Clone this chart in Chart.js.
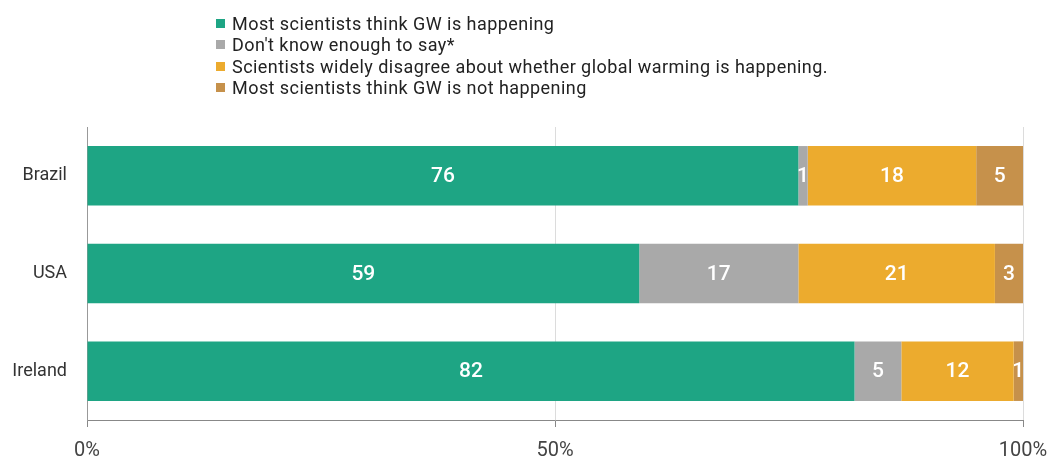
<!DOCTYPE html>
<html>
<head>
<meta charset="utf-8">
<script src="https://cdn.jsdelivr.net/npm/chart.js@4"></script>
<style>
  body { margin: 0; background: #fff; font-family: Roboto, "Noto Sans", sans-serif; }
  #wrap { position: relative; width: 1052px; height: 457px; }
  #legend { position: absolute; left: 216px; top: 13px; font-size: 18px; letter-spacing: 0.45px; line-height: 21.3px; color: #222; }
  #legend .item { display: flex; align-items: center; white-space: nowrap; }
  #legend .box { width: 9px; height: 9px; margin-right: 7px; flex: none; }
</style>
</head>
<body>
<div id="wrap">
  <canvas id="chartGW"></canvas>
  <div id="legend"></div>
</div>
<script>
// survey answers, percent of respondents
var countries = ['Brazil', 'USA', 'Ireland'];
var happening = [76, 59, 82];
var dontKnow = [1, 17, 5];
var disagree = [18, 21, 12];
var notHappening = [5, 3, 1];

var seriesNames = [
    'Most scientists think GW is happening',
    "Don't know enough to say*",
    'Scientists widely disagree about whether global warming is happening.',
    'Most scientists think GW is not happening'
];
var seriesColors = ['#1ea584', '#a9a9a9', '#ecab2e', '#c6914b'];
var xTicks = [0, 50, 100];

// writes each segment's value in the middle of the bar
var valueLabels = {
    id: 'valueLabels',
    afterDatasetsDraw: function(chart) {
        var ctx = chart.ctx;
        ctx.save();
        ctx.fillStyle = '#fff';
        ctx.font = '500 21px Roboto';
        ctx.textAlign = 'center';
        ctx.textBaseline = 'middle';
        chart.data.datasets.forEach(function(ds, i) {
            chart.getDatasetMeta(i).data.forEach(function(bar, j) {
                var p = bar.getProps(['x', 'y', 'base'], true);
                ctx.fillText(String(ds.data[j]), (p.x + p.base) / 2, p.y + 1);
            });
        });
        ctx.restore();
    }
};

var seriesData = [happening, dontKnow, disagree, notHappening];
var datasets = seriesData.map(function(values, i) {
    return {
        label: seriesNames[i],
        data: values,
        backgroundColor: seriesColors[i],
        borderWidth: 0,
        barPercentage: 0.61,
        categoryPercentage: 1
    };
});

var chart = new Chart(document.getElementById('chartGW'), {
    type: 'bar',
    data: { labels: countries, datasets: datasets },
    options: {
        indexAxis: 'y',
        responsive: true,
        maintainAspectRatio: false,
        animation: false,
        layout: { padding: { top: 127, right: 29, bottom: 0, left: 0 } },
        plugins: { legend: { display: false }, tooltip: { enabled: false } },
        scales: {
            x: {
                stacked: true,
                min: 0,
                max: 100,
                afterBuildTicks: function(scale) {
                    scale.ticks = xTicks.map(function(v) { return { value: v }; });
                },
                afterFit: function(scale) {
                    scale.height = 37;
                    // the end labels may hang past the plot edges
                    scale.paddingLeft = 0;
                    scale.paddingRight = 0;
                },
                grid: { color: '#dcdcdc', tickColor: '#888', tickLength: 7 },
                border: { color: '#888' },
                ticks: {
                    color: '#444',
                    font: { family: 'Roboto', size: 20 },
                    padding: 12,
                    maxRotation: 0,
                    callback: function(v) { return v + '%'; }
                }
            },
            y: {
                stacked: true,
                afterFit: function(scale) { scale.width = 87; },
                grid: { display: false, drawTicks: false },
                border: { display: true, color: '#999' },
                ticks: {
                    color: '#333',
                    font: { family: 'Roboto', size: 18 },
                    padding: 20
                }
            }
        }
    },
    plugins: [valueLabels]
});

// legend, one entry per line
var legend = document.getElementById('legend');
chart.data.datasets.forEach(function(ds) {
    var item = document.createElement('div');
    item.className = 'item';
    var box = document.createElement('span');
    box.className = 'box';
    box.style.background = ds.backgroundColor;
    var txt = document.createElement('span');
    txt.textContent = ds.label;
    item.appendChild(box);
    item.appendChild(txt);
    legend.appendChild(item);
});
</script>
</body>
</html>
